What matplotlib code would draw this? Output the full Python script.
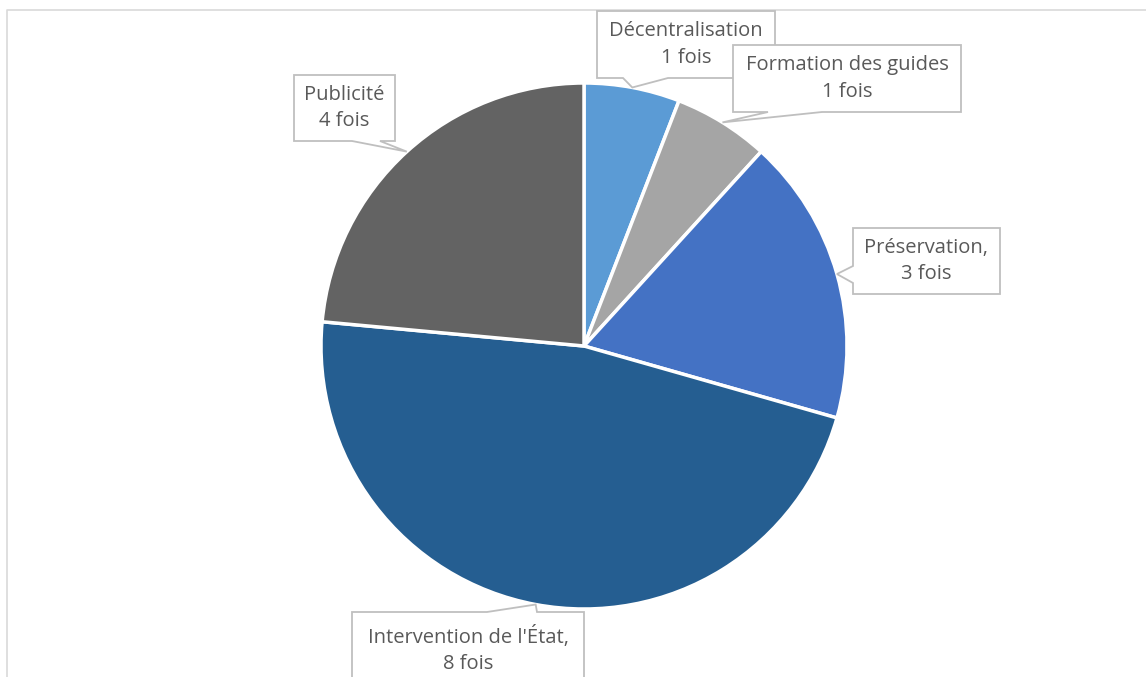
import numpy as np
import matplotlib.pyplot as plt
from matplotlib.patches import Polygon

# Données
categories = ['Décentralisation', 'Formation des guides', 'Préservation',
              "Intervention de l'État", 'Publicité']
valeurs = [1, 1, 3, 8, 4]
etiquettes = ['Décentralisation\n1 fois', 'Formation des guides\n1 fois',
              'Préservation,\n3 fois', "Intervention de l'État,\n8 fois",
              'Publicité\n4 fois']
couleurs = ['#5B9BD5', '#A5A5A5', '#4472C4', '#255E91', '#636363']

# Mise en page (pixels, y vers le bas)
W, H = 1146, 677
cx, cy, r = 584, 346, 263
# boîte: x0, y0, x1, y1, côté du pointeur, début et fin de la base
boites = [
    (597, 11, 775, 78, 'bas', 623, 668),
    (733, 45, 961, 112, 'bas', 768, 822),
    (853, 228, 1000, 294, 'gauche', 266, 283),
    (352, 612, 584, 688, 'haut', 487, 537),
    (294, 75, 395, 141, 'bas', 352, 380),
]

plt.rcParams['font.family'] = ['Open Sans', 'DejaVu Sans']
fig = plt.figure(figsize=(W / 100, H / 100), dpi=100)
ax = fig.add_axes([0, 0, 1, 1])
ax.set_xlim(0, W)
ax.set_ylim(0, H)
ax.axis('off')

wedges, _ = ax.pie(valeurs, colors=couleurs, startangle=90, counterclock=False,
                   center=(cx, H - cy), radius=r,
                   wedgeprops=dict(edgecolor='white', linewidth=2.5))
ax.set_xlim(0, W)
ax.set_ylim(0, H)
ax.set_aspect('equal')

# cadre extérieur du graphique
ax.plot([7, 7, W], [0, H - 10, H - 10], color='#D9D9D9', lw=1.2)

for w, txt, b in zip(wedges, etiquettes, boites):
    ang = np.deg2rad((w.theta1 + w.theta2) / 2)
    tip = (cx + r * np.cos(ang), H - cy + r * np.sin(ang))
    x0, y0, x1, y1, cote, a, c = b
    Y0, Y1 = H - y0, H - y1
    if cote == 'bas':
        pts = [(x0, Y0), (x1, Y0), (x1, Y1), (c, Y1), tip, (a, Y1), (x0, Y1)]
    elif cote == 'haut':
        pts = [(x0, Y0), (a, Y0), tip, (c, Y0), (x1, Y0), (x1, Y1), (x0, Y1)]
    else:
        pts = [(x0, Y0), (x1, Y0), (x1, Y1), (x0, Y1), (x0, H - c), tip, (x0, H - a)]
    ax.add_patch(Polygon(pts, closed=True, facecolor='white',
                         edgecolor='#BFBFBF', lw=1.3, zorder=5))
    ax.text((x0 + x1) / 2, (Y0 + Y1) / 2, txt, ha='center', va='center',
            fontsize=14.5, color='#595959', linespacing=1.45, zorder=6)

fig.savefig('out.png', dpi=100)
